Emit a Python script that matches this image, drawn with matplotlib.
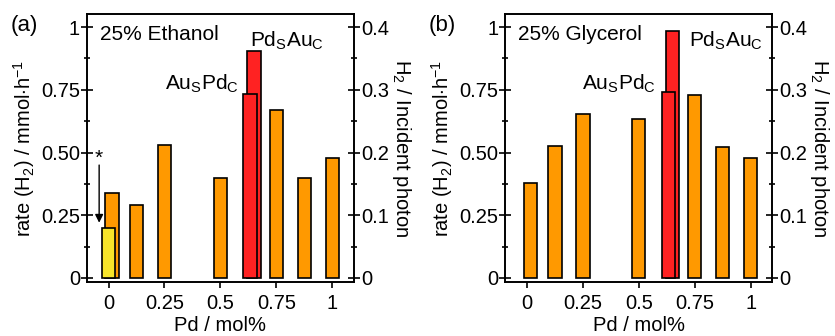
import numpy as np
import matplotlib.pyplot as plt
from matplotlib.ticker import FixedLocator

plt.rcParams['font.family'] = ['Liberation Sans', 'DejaVu Sans']
plt.rcParams['mathtext.fontset'] = 'custom'
plt.rcParams['mathtext.rm'] = 'Liberation Sans'

# data
pd_pos = [0.015, 0.125, 0.25, 0.5, 0.75, 0.875, 1.0]
ethanol = [0.34, 0.29, 0.53, 0.40, 0.67, 0.40, 0.48]
glycerol = [0.377, 0.525, 0.653, 0.633, 0.73, 0.523, 0.477]

# core-shell samples: Pd-shell/Au-core behind, Au-shell/Pd-core in front
pdsauc_pos = 0.65
ausdpc_pos = 0.633
ethanol_pdsauc = 0.903
ethanol_auspdc = 0.732
glycerol_pdsauc = 0.984
glycerol_auspdc = 0.742

# starred sample (ethanol only)
star_pos = 0.0
star_val = 0.20

orange = '#ff9900'
red = '#ff2222'
yellow = '#f7e52a'
w = 0.06
fs = 15
tfs = 14.5


def panel(ax, vals, pds, aus, title, pd_lbl_x, au_lbl_x):
    ax.bar(pd_pos, vals, w, color=orange, edgecolor='k', lw=1.2, zorder=2)
    ax.bar(pdsauc_pos, pds, w, color=red, edgecolor='k', lw=1.2, zorder=2)
    ax.bar(ausdpc_pos, aus, w, color=red, edgecolor='k', lw=1.2, zorder=3)
    ax.set_xlim(-0.097, 1.097)
    ax.set_ylim(-0.016, 1.052)
    ax.set_xticks([0, 0.25, 0.5, 0.75, 1])
    ax.set_xticklabels(['0', '0.25', '0.5', '0.75', '1'])
    ax.set_yticks([0, 0.25, 0.5, 0.75, 1])
    ax.set_yticklabels(['0', '0.25', '0.50', '0.75', '1'])
    ax.yaxis.set_minor_locator(FixedLocator([0.125, 0.375, 0.625, 0.875]))
    ax.tick_params(axis='y', direction='inout', length=8, width=1.2, labelsize=tfs, pad=1)
    ax.tick_params(axis='y', which='minor', direction='inout', length=5, width=1.2)
    ax.tick_params(axis='x', direction='out', length=4, width=1.2, labelsize=tfs, pad=5)
    for s in ax.spines.values():
        s.set_linewidth(1.2)
    ax.set_xlabel('Pd / mol%', fontsize=tfs, labelpad=2)
    ax.set_ylabel(r'rate (H$_2$) / mmol$\cdot$h$^{-1}$', fontsize=tfs, labelpad=3)
    ax.text(-0.04, 0.95, title, fontsize=fs, ha='left', va='baseline')
    ax.text(pd_lbl_x, 0.925, r'Pd$_\mathregular{S}$Au$_\mathregular{C}$', fontsize=fs,
            ha='left', va='baseline')
    ax.text(au_lbl_x, 0.75, r'Au$_\mathregular{S}$Pd$_\mathregular{C}$', fontsize=fs,
            ha='right', va='baseline')

    ax2 = ax.twinx()
    ax2.set_ylim(-0.016 * 0.4, 1.052 * 0.4)
    ax2.set_yticks([0, 0.1, 0.2, 0.3, 0.4])
    ax2.set_yticklabels(['0', '0.1', '0.2', '0.3', '0.4'])
    ax2.yaxis.set_minor_locator(FixedLocator([0.05, 0.15, 0.25, 0.35]))
    ax2.tick_params(axis='y', direction='inout', length=8, width=1.2, labelsize=tfs, pad=1)
    ax2.tick_params(axis='y', which='minor', direction='inout', length=5, width=1.2)
    ax2.set_ylabel(r'H$_2$ / Incident photon', fontsize=tfs, rotation=270, labelpad=17)
    for s in ax2.spines.values():
        s.set_linewidth(1.2)
    return ax2


fig = plt.figure(figsize=(8.35, 3.36), dpi=100)
ax1 = fig.add_axes([0.104, 0.161, 0.320, 0.797])
ax3 = fig.add_axes([0.605, 0.161, 0.320, 0.797])

panel(ax1, ethanol, ethanol_pdsauc, ethanol_auspdc, '25% Ethanol', 0.63, 0.58)
ax1.bar(star_pos, star_val, w, color=yellow, edgecolor='k', lw=1.2, zorder=4)
ax1.annotate('', xy=(-0.042, 0.22), xytext=(-0.042, 0.45),
             arrowprops=dict(arrowstyle='-|>', color='k', lw=1.0,
                             mutation_scale=12, shrinkA=0, shrinkB=0))
ax1.text(-0.042, 0.44, '*', fontsize=fs, ha='center', va='bottom')

panel(ax3, glycerol, glycerol_pdsauc, glycerol_auspdc, '25% Glycerol', 0.725, 0.575)

fig.text(0.013, 0.925, '(a)', fontsize=16, ha='left', va='center')
fig.text(0.513, 0.925, '(b)', fontsize=16, ha='left', va='center')

fig.savefig('out.png', dpi=100)
